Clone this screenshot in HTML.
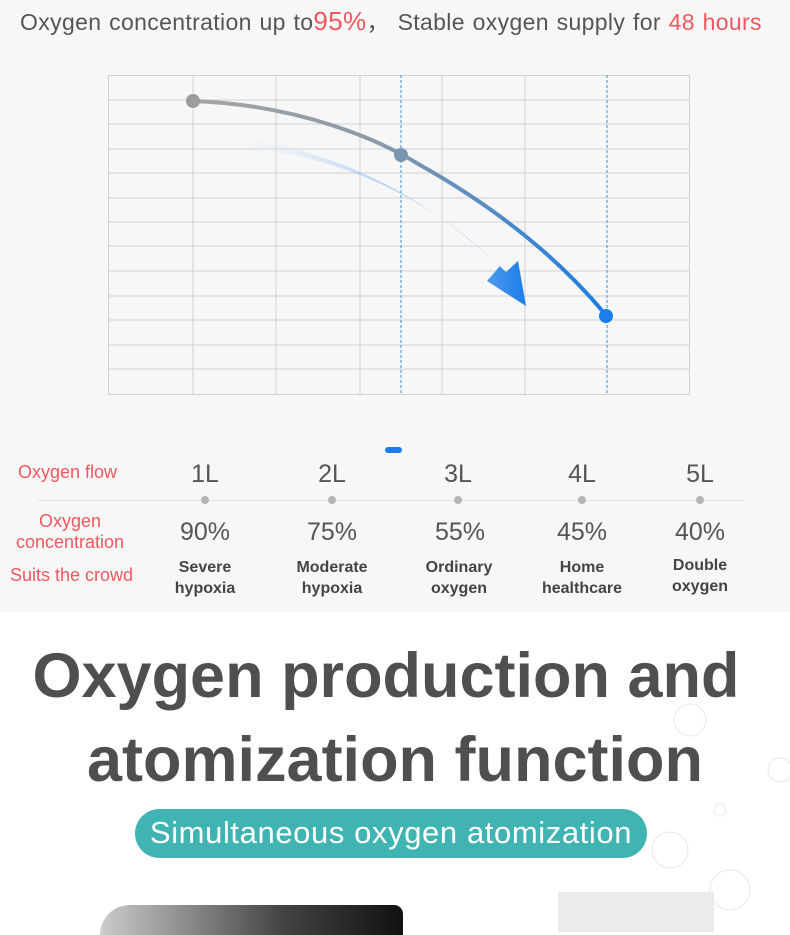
<!DOCTYPE html>
<html><head><style>
body{margin:0;width:790px;height:924px;overflow:hidden;background:#fff;font-family:"Liberation Sans",sans-serif;position:relative}
.a{position:absolute;white-space:nowrap}
.r{color:#f0575e}
.c{position:absolute;transform:translateX(-50%);text-align:center;white-space:nowrap}
</style></head><body>
<div class="a" style="left:0;top:0;width:790px;height:612px;background:#f7f7f7"></div>
<div class="a" style="left:20px;top:3px;font-size:23px;color:#555;letter-spacing:0.35px;word-spacing:1px">Oxygen concentration up to<span class="r" style="font-size:26px">95%</span>，&nbsp;Stable oxygen supply for <span class="r">48 hours</span></div>
<svg class="a" style="left:0;top:0" width="790" height="430">
<g stroke="#d2d2d2" stroke-width="1" fill="none">
<rect x="108.5" y="75.5" width="581" height="319"/>
<path d="M193 75V394M276 75V394M360 75V394M442 75V394M525 75V394M108 100H690M108 124H690M108 149H690M108 173H690M108 198H690M108 222H690M108 246H690M108 271H690M108 296H690M108 320H690M108 345H690M108 369H690"/>
</g>
<path d="M401 75V394M607 75V394" stroke="#3a8fd8" stroke-dasharray="3,2"/>
<defs><linearGradient id="g1" x1="0" x2="1"><stop offset="0" stop-color="#a5a5a5"/><stop offset="0.45" stop-color="#8a9aaa"/><stop offset="1" stop-color="#1a7de0"/></linearGradient>
<linearGradient id="g2" x1="0" x2="1"><stop offset="0" stop-color="#fff" stop-opacity="0"/><stop offset="1" stop-color="#1a7de8"/></linearGradient></defs>
<path d="M193 101C300 105 380 140 420 165C500 210 560 260 605 314" stroke="url(#g1)" stroke-width="4" fill="none"/>
<path d="M205 134C330 144 420 193 500 266L487 281L526 306L518 261L506 272C430 198 340 150 205 144Z" fill="url(#g2)"/>
<circle cx="193" cy="101" r="7" fill="#9c9c9c"/><circle cx="401" cy="155" r="7" fill="#7b97b0"/><circle cx="606" cy="316" r="7" fill="#1a7de8"/>
</svg>
<div class="a" style="left:385px;top:447px;width:17px;height:6px;border-radius:3px;background:#1a7de8"></div>
<div class="a r" style="left:18px;top:462px;font-size:18px">Oxygen flow</div>
<div class="a" style="left:38px;top:500px;width:707px;height:1px;background:#e2e2e2"></div>
<div class="c r" style="left:70px;top:511px;font-size:18px;line-height:21px">Oxygen<br>concentration</div>
<div class="a r" style="left:10px;top:565px;font-size:18px">Suits the crowd</div>
<div class="c" style="left:205px;top:460px;font-size:25px;color:#555">1L</div>
<div class="c" style="left:332px;top:460px;font-size:25px;color:#555">2L</div>
<div class="c" style="left:458px;top:460px;font-size:25px;color:#555">3L</div>
<div class="c" style="left:582px;top:460px;font-size:25px;color:#555">4L</div>
<div class="c" style="left:700px;top:460px;font-size:25px;color:#555">5L</div>
<svg class="a" style="left:0;top:495px" width="790" height="12" fill="#b5b5b5"><circle cx="205" cy="5" r="4"/><circle cx="332" cy="5" r="4"/><circle cx="458" cy="5" r="4"/><circle cx="582" cy="5" r="4"/><circle cx="700" cy="5" r="4"/></svg>
<div class="c" style="left:205px;top:518px;font-size:25px;color:#555">90%</div>
<div class="c" style="left:332px;top:518px;font-size:25px;color:#555">75%</div>
<div class="c" style="left:460px;top:518px;font-size:25px;color:#555">55%</div>
<div class="c" style="left:582px;top:518px;font-size:25px;color:#555">45%</div>
<div class="c" style="left:700px;top:518px;font-size:25px;color:#555">40%</div>
<div class="c" style="left:205px;top:557px;font-size:16px;font-weight:bold;color:#444;line-height:21px">Severe<br>hypoxia</div>
<div class="c" style="left:332px;top:557px;font-size:16px;font-weight:bold;color:#444;line-height:21px">Moderate<br>hypoxia</div>
<div class="c" style="left:459px;top:557px;font-size:16px;font-weight:bold;color:#444;line-height:21px">Ordinary<br>oxygen</div>
<div class="c" style="left:582px;top:557px;font-size:16px;font-weight:bold;color:#444;line-height:21px">Home<br>healthcare</div>
<div class="c" style="left:700px;top:555px;font-size:16px;font-weight:bold;color:#444;line-height:21px">Double<br>oxygen</div>
<div class="c" style="left:386px;top:634px;font-size:63px;font-weight:bold;color:#4f4f4f;line-height:84px">Oxygen production and</div>
<div class="c" style="left:395px;top:718px;font-size:63px;font-weight:bold;color:#4f4f4f;line-height:84px">atomization function</div>
<div class="a" style="left:135px;top:809px;width:512px;height:49px;border-radius:25px;background:#40b4b2;color:#fff;font-size:31px;line-height:48px;text-align:center;letter-spacing:0.6px">Simultaneous oxygen atomization</div>
<div class="a" style="left:100px;top:905px;width:303px;height:30px;border-radius:40px 12px 0 0;background:linear-gradient(90deg,#ccc,#444 60%,#111)"></div>
<div class="a" style="left:558px;top:892px;width:156px;height:40px;background:#ebebeb"></div>
<svg class="a" style="left:640px;top:690px" width="150" height="230" fill="none" stroke="#e8e8e8"><circle cx="50" cy="30" r="16"/><circle cx="140" cy="80" r="12"/><circle cx="30" cy="160" r="18"/><circle cx="90" cy="200" r="20"/><circle cx="80" cy="120" r="6"/></svg>
</body></html>
